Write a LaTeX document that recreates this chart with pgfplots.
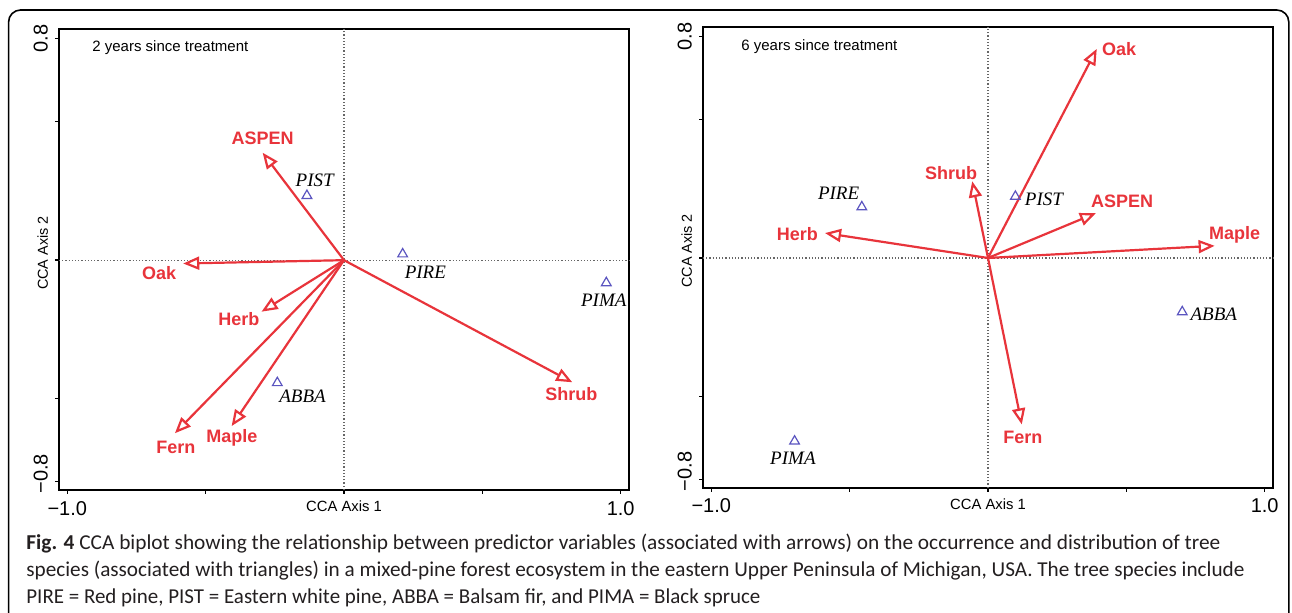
\documentclass[border=0pt]{standalone}
\usepackage{fontspec}
\setmainfont{Liberation Sans}
\newfontfamily\capfont{Carlito}
\newfontfamily\spfont{Liberation Serif}
\usepackage{graphicx}
\usepackage{pgfplots}
\pgfplotsset{compat=1.18}
\usetikzlibrary{arrows.meta}
\definecolor{arrred}{HTML}{E8343B}
\definecolor{triblue}{HTML}{5B55C0}
\definecolor{captext}{HTML}{231F20}

\pgfplotsset{cca/.style={
  scale only axis, width=285pt, height=230.5pt,
  xmin=-1.03, xmax=1.03, ymin=-0.83, ymax=0.835,
  axis line style={line width=1pt},
  tick align=outside, xtick pos=left, ytick pos=left,
  major tick length=2pt, tick style={line width=0.7pt, black},
  xtick={-1,-0.5,0,0.5,1},
  xticklabels={−1.0,,{\fontsize{7.4}{8}\selectfont CCA Axis 1},,1.0},
  ytick={-0.8,-0.5,0,0.5,0.8},
  % spaces shift the rotated labels towards the centre, as in the source
  yticklabels={\hspace{8pt}−0.8,,{\fontsize{7.2}{8}\selectfont\hspace{7pt}CCA Axis 2},,0.8\hspace{6pt}},
  ticklabel style={font=\fontsize{10}{12}\selectfont},
  yticklabel style={rotate=90, anchor=south},
  clip=false,
}}
\tikzset{
  arr/.style={arrred, line width=1.1pt, -{Triangle[open, length=8pt, width=6.5pt]}},
  lab/.style={text=arrred, font=\bfseries\fontsize{9}{10}\selectfont, inner sep=0pt},
  sp/.style={font=\spfont\itshape\fontsize{9.5}{10}\selectfont, inner sep=0pt},
  zero/.style={gray!80!black, densely dotted, line width=0.6pt},
}
\pgfplotsset{tri/.style={only marks, mark=triangle, mark size=2.8pt, triblue, mark options={line width=0.6pt}}}

\begin{document}
\begin{tikzpicture}
\useasboundingbox (0,0) rectangle (646pt,-306.5pt);
\draw[line width=0.8pt, rounded corners=6pt] (4.3pt,-5pt) rectangle (644.4pt,-330pt);

% 2 years
\begin{axis}[cca, at={(29.5pt,-245pt)}, anchor=south west]
\draw[zero] (axis cs:0,-0.83) -- (axis cs:0,0.835);
\draw[zero] (axis cs:-1.03,0) -- (axis cs:1.03,0);
\addplot[arr] coordinates {(0,0) (-0.294,0.388)};
\addplot[arr] coordinates {(0,0) (-0.581,-0.012)};
\addplot[arr] coordinates {(0,0) (-0.298,-0.186)};
\addplot[arr] coordinates {(0,0) (-0.611,-0.625)};
\addplot[arr] coordinates {(0,0) (-0.406,-0.599)};
\addplot[arr] coordinates {(0,0) (0.825,-0.441)};
\addplot[tri] coordinates {(-0.134,0.233) (0.212,0.022) (0.948,-0.082) (-0.241,-0.443)};
\node[lab] at (axis cs:-0.294,0.441) {ASPEN};
\node[lab] at (axis cs:-0.668,-0.045) {Oak};
\node[lab] at (axis cs:-0.380,-0.212) {Herb};
\node[lab] at (axis cs:-0.608,-0.676) {Fern};
\node[lab] at (axis cs:-0.405,-0.640) {Maple};
\node[lab] at (axis cs:0.822,-0.485) {Shrub};
\node[sp] at (axis cs:-0.106,0.290) {PIST};
\node[sp] at (axis cs:0.294,-0.042) {PIRE};
\node[sp] at (axis cs:0.939,-0.144) {PIMA};
\node[sp] at (axis cs:-0.150,-0.492) {ABBA};
\end{axis}

% 6 years
\begin{axis}[cca, at={(351.5pt,-243.9pt)}, anchor=south west]
\draw[zero] (axis cs:0,-0.83) -- (axis cs:0,0.835);
\draw[zero] (axis cs:-1.03,0) -- (axis cs:1.03,0);
\addplot[arr] coordinates {(0,0) (0.393,0.755)};
\addplot[arr] coordinates {(0,0) (-0.057,0.277)};
\addplot[arr] coordinates {(0,0) (0.390,0.162)};
\addplot[arr] coordinates {(0,0) (0.819,0.044)};
\addplot[arr] coordinates {(0,0) (-0.589,0.090)};
\addplot[arr] coordinates {(0,0) (0.122,-0.601)};
\addplot[tri] coordinates {(-0.456,0.184) (0.099,0.222) (0.702,-0.195) (-0.699,-0.662)};
\node[lab] at (axis cs:0.474,0.754) {Oak};
\node[lab] at (axis cs:-0.133,0.308) {Shrub};
\node[lab] at (axis cs:0.485,0.206) {ASPEN};
\node[lab] at (axis cs:0.891,0.084) {Maple};
\node[lab] at (axis cs:-0.689,0.088) {Herb};
\node[lab] at (axis cs:0.126,-0.647) {Fern};
\node[sp] at (axis cs:-0.540,0.235) {PIRE};
\node[sp] at (axis cs:0.202,0.212) {PIST};
\node[sp] at (axis cs:0.816,-0.203) {ABBA};
\node[sp] at (axis cs:-0.705,-0.724) {PIMA};
\end{axis}

\node[anchor=west, inner sep=0pt, font=\fontsize{7.5}{9}\selectfont] at (46pt,-24pt) {2 years since treatment};
\node[anchor=west, inner sep=0pt, font=\fontsize{7.5}{9}\selectfont] at (370.5pt,-23.5pt) {6 years since treatment};

\begin{scope}[every node/.style={anchor=base west, inner sep=0pt, text=captext}]
\node at (13pt,-275pt) {\resizebox{597pt}{\height}{\capfont\fontsize{10.6}{13}\selectfont\textbf{Fig. 4} CCA biplot showing the relationship between predictor variables (associated with arrows) on the occurrence and distribution of tree}};
\node at (13pt,-288.5pt) {\resizebox{609pt}{\height}{\capfont\fontsize{10.6}{13}\selectfont species (associated with triangles) in a mixed-pine forest ecosystem in the eastern Upper Peninsula of Michigan, USA. The tree species include}};
\node at (13pt,-302pt) {\resizebox{367pt}{\height}{\capfont\fontsize{10.6}{13}\selectfont PIRE = Red pine, PIST = Eastern white pine, ABBA = Balsam fir, and PIMA = Black spruce}};
\end{scope}
\end{tikzpicture}
\end{document}
